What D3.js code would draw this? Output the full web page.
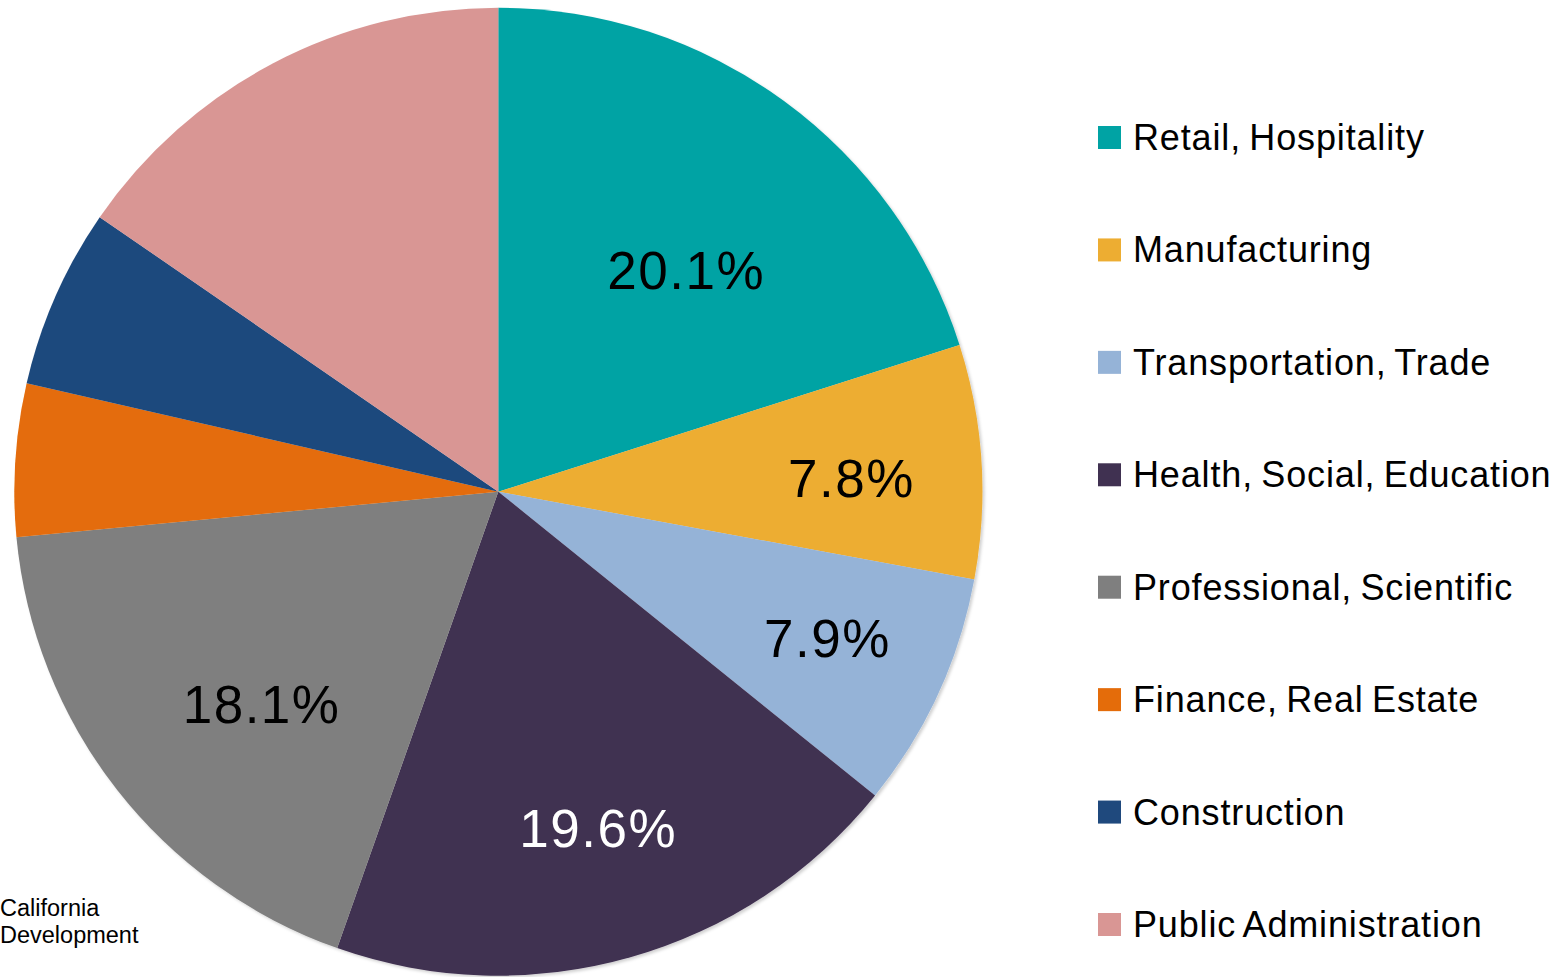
<!DOCTYPE html>
<html>
<head>
<meta charset="utf-8">
<script src="https://cdn.jsdelivr.net/npm/d3@7"></script>
<style>
  html, body { margin: 0; padding: 0; background: #ffffff; overflow: hidden; }
  svg { display: block; font-family: "Liberation Sans", Arial, sans-serif; }
</style>
</head>
<body>
<svg id="chart" width="1566" height="977"></svg>
<script>
// ---- data ----
const categories = [
  "Retail, Hospitality",
  "Manufacturing",
  "Transportation, Trade",
  "Health, Social, Education",
  "Professional, Scientific",
  "Finance, Real Estate",
  "Construction",
  "Public Administration"
];
const shares = [20.1, 7.8, 7.9, 19.6, 18.1, 5.1, 6.0, 15.4];
const showLabel = [true, true, true, true, true, false, false, false];
const colors = ["#00A3A4", "#EDAD32", "#95B3D7", "#403151", "#7F7F7F", "#E46C0A", "#1F497D", "#D99694"];
const labelColors = ["#000000", "#000000", "#000000", "#ffffff", "#000000", "#000000", "#000000", "#000000"];
// best-fit label placement: position within slice (0..1 of its angle) and fraction of radius
const labelAngleFrac = [0.557, 0.553, 0.48, 0.49, 0.44, 0.5, 0.5, 0.5];
const labelRadiusFrac = [0.60, 0.73, 0.745, 0.725, 0.657, 0.7, 0.7, 0.7];
const sourceLines = ["California", "Development"];

// ---- layout ----
const svg = d3.select("#chart");
const cx = 498.3, cy = 491.7, R = 484;

const defs = svg.append("defs");
const f = defs.append("filter").attr("id", "shadow")
  .attr("x", "-5%").attr("y", "-5%").attr("width", "110%").attr("height", "110%");
f.append("feDropShadow").attr("dx", 2).attr("dy", 2).attr("stdDeviation", 1.5)
  .attr("flood-color", "#000").attr("flood-opacity", 0.18);

const pie = d3.pie().sort(null).value(d => d.v).startAngle(0).endAngle(2 * Math.PI);
const data = categories.map((c, i) => ({ c, v: shares[i], i }));
const arcs = pie(data);
const arc = d3.arc().innerRadius(0).outerRadius(R);

const g = svg.append("g").attr("transform", `translate(${cx},${cy})`);
const slices = g.append("g").attr("filter", "url(#shadow)");
slices.selectAll("path").data(arcs).join("path")
  .attr("d", arc)
  .attr("fill", d => colors[d.data.i]);

g.append("g").selectAll("text").data(arcs.filter(d => showLabel[d.data.i])).join("text")
  .attr("transform", d => {
    const i = d.data.i;
    const r = R * labelRadiusFrac[i];
    const a = d.startAngle + (d.endAngle - d.startAngle) * labelAngleFrac[i];
    return `translate(${r * Math.sin(a)},${-r * Math.cos(a)})`;
  })
  .attr("text-anchor", "middle")
  .attr("dy", "0.35em")
  .attr("font-size", 53)
  .attr("letter-spacing", 1.5)
  .attr("fill", d => labelColors[d.data.i])
  .text(d => d3.format(".1f")(d.data.v) + "%");

// ---- legend ----
const legendY = d3.scalePoint().domain(categories).range([137.5, 924.5]);
const legend = svg.append("g");
const items = legend.selectAll("g").data(categories).join("g")
  .attr("transform", d => `translate(1098,${legendY(d)})`);
items.append("rect")
  .attr("x", 0).attr("y", -11.5).attr("width", 23).attr("height", 23)
  .attr("fill", (d, i) => colors[i]);
items.append("text")
  .attr("x", 35).attr("y", 12.5)
  .attr("font-size", 36)
  .attr("letter-spacing", 0.85)
  .attr("word-spacing", -2.5)
  .attr("fill", "#000")
  .text(d => d);

// ---- source note (cut off at left in the original) ----
svg.append("g").selectAll("text").data(sourceLines).join("text")
  .attr("x", 0)
  .attr("y", (d, i) => 916 + i * 27)
  .attr("font-size", 23.5)
  .attr("fill", "#000")
  .text(d => d);
</script>
</body>
</html>
